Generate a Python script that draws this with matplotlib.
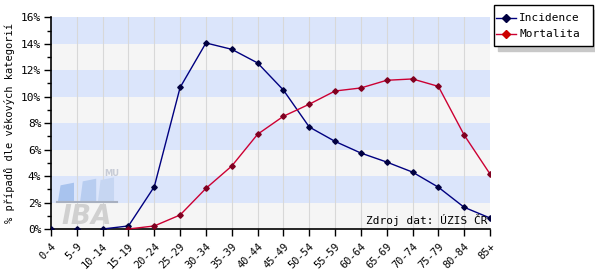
import numpy as np
import matplotlib.pyplot as plt
from matplotlib.patches import Rectangle, Polygon

vekove_kategorie = ['0-4', '5-9', '10-14', '15-19', '20-24', '25-29', '30-34', '35-39',
                    '40-44', '45-49', '50-54', '55-59', '60-64', '65-69', '70-74',
                    '75-79', '80-84', '85+']
incidence = [0.0, 0.0, 0.0, 0.23, 3.2, 10.7, 14.06, 13.58, 12.55, 10.5, 7.71,
             6.62, 5.74, 5.06, 4.3, 3.16, 1.64, 0.83]
mortalita = [0.0, 0.0, 0.0, 0.0, 0.23, 1.06, 3.07, 4.76, 7.16, 8.52, 9.43,
             10.43, 10.66, 11.24, 11.34, 10.78, 7.1, 4.16]
y_ticks = [0, 2, 4, 6, 8, 10, 12, 14, 16]

plt.rcParams['font.family'] = ['DejaVu Sans Mono']

fig = plt.figure(figsize=(5.95, 2.8), dpi=100)
ax = fig.add_axes([51/595, 51/280, 439/595, 211.7/280])

x = np.arange(len(vekove_kategorie))
ax.set_xlim(0, len(vekove_kategorie) - 1)
ax.set_ylim(0, 16)

# pruhy v pozadi
for i in range(0, 16, 2):
    c = '#f5f5f5' if (i // 2) % 2 == 0 else '#dbe5fb'
    ax.axhspan(i, i + 2, color=c, zorder=0, lw=0)
for xi in x[1:-1]:
    ax.axvline(xi, color='#d8d8d8', lw=0.8, zorder=1)

# logo IBA MU (vodoznak)
bary = [(0.27, 0.62, 3.5, '#a8c3ee'), (1.13, 0.62, 3.8, '#b8cdf0'), (1.82, 0.62, 3.9, '#c6d6f2')]
for bx, bw, bh, bc in bary:
    ax.add_patch(Polygon([(bx, 2.1), (bx + bw, 2.1), (bx + bw, bh), (bx + 0.1, bh - 0.2)],
                         closed=True, color=bc, zorder=1, lw=0))
ax.plot([0.23, 2.56], [2.06, 2.06], color='#a8b0c0', lw=1.5, zorder=1)
ax.text(1.38, 0.35, 'IBA', fontsize=19, fontweight='bold', fontstyle='italic',
        color='#d0d0d0', family='DejaVu Sans', ha='center', zorder=1)
ax.text(2.35, 4.0, 'MU', fontsize=6, color='#c8ccd6', family='DejaVu Sans',
        fontweight='bold', ha='center', zorder=1)

ax.plot(x[2:], incidence[2:], color='#000080', lw=1, zorder=3)
ax.plot(x[3:], mortalita[3:], color='#cc0033', lw=1, zorder=3)
ax.plot(x, incidence, ls='none', marker='D', ms=2.8, color='#000040', zorder=4)
ax.plot(x[3:], mortalita[3:], ls='none', marker='D', ms=2.8, color='#800020', zorder=4)

ax.set_yticks(y_ticks)
ax.set_yticklabels(['%d%%' % v for v in y_ticks], fontsize=8)
ax.set_yticks(np.arange(1, 16, 2), minor=True)
ax.set_xticks(x)
ax.set_xticklabels(vekove_kategorie, rotation=45, ha='right', rotation_mode='anchor',
                   fontsize=7.5)
ax.tick_params(axis='both', which='major', length=5, width=1, color='black', pad=2)
ax.tick_params(axis='y', which='minor', length=3, width=1)
ax.tick_params(axis='x', pad=4)

for s in ['top', 'right']:
    ax.spines[s].set_visible(False)
ax.spines['left'].set_linewidth(1.2)
ax.spines['bottom'].set_linewidth(1.2)

ax.set_ylabel('% případů dle věkových kategorií', fontsize=7.5, labelpad=4)

ax.text(0.995, 0.015, 'Zdroj dat: ÚZIS ČR', transform=ax.transAxes, fontsize=8,
        ha='right', va='bottom', zorder=5)

# legenda
lx, ly, lw_, lh = 494/595, 1 - 46/280, 99/595, 41/280
fig.patches.append(Rectangle((lx + 4/595, ly - 5/280), lw_, lh, transform=fig.transFigure,
                             color='#c8c8c8', zorder=0))
fig.patches.append(Rectangle((lx, ly), lw_, lh, transform=fig.transFigure,
                             facecolor='white', edgecolor='black', lw=1, zorder=1))
for i, (lab, lc, mc) in enumerate([('Incidence', '#000080', '#000040'),
                                   ('Mortalita', '#cc0033', '#cc0000')]):
    yy = ly + lh - (13 + 16 * i) / 280
    fig.add_artist(plt.Line2D([lx + 2/595, lx + 22/595], [yy, yy], color=lc, lw=1,
                              transform=fig.transFigure))
    fig.add_artist(plt.Line2D([lx + 12/595], [yy], marker='D', ms=4.5, color=mc,
                              transform=fig.transFigure))
    fig.text(lx + 25/595, yy, lab, fontsize=8, va='center')

fig.savefig('out.png', dpi=100)
